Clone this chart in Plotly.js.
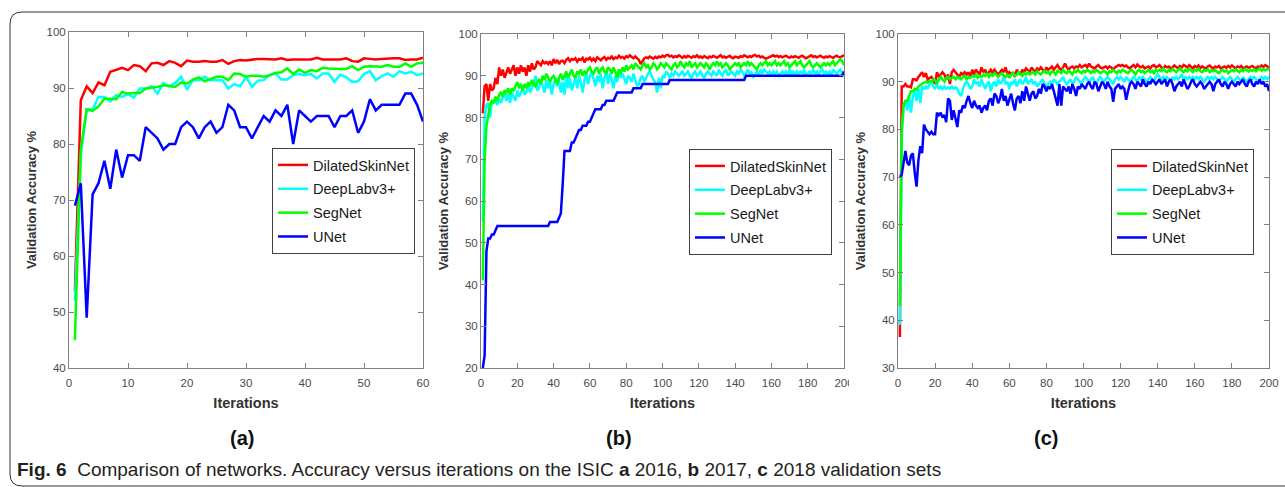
<!DOCTYPE html>
<html>
<head>
<meta charset="utf-8">
<script src="https://cdn.plot.ly/plotly-3.0.1.min.js"></script>
<style>html,body{margin:0;padding:0;background:#fff;}#chart{width:1285px;height:487px;}</style>
</head>
<body>
<div id="chart"></div>
<script>
// ---------------- DATA ----------------
const seriesNames = ['DilatedSkinNet', 'DeepLabv3+', 'SegNet', 'UNet'];
const panelLabels = ['(a)', '(b)', '(c)'];
const xTitle = 'Iterations';
const yTitle = 'Validation Accuracy %';

// (a) ISIC 2016, iterations 1..60
const aDilated = [53.7,87.8,90.3,89.1,91.0,90.5,92.9,93.3,93.6,93.2,
  94.1,93.9,93.0,94.4,94.5,94.1,94.8,94.5,93.9,94.9,
  94.7,94.7,94.8,94.7,94.7,95.0,94.3,94.8,95.0,94.9,
  95.1,95.2,95.2,95.1,95.1,95.3,95.0,95.1,95.1,95.1,
  95.1,95.4,95.1,95.1,95.1,95.1,95.3,94.8,94.7,95.3,
  95.2,95.1,95.2,95.3,95.3,95.3,95.0,95.1,95.1,95.4];
const aDeepLab = [52,78,86.2,86.2,88.4,88.4,87.6,88.7,88.4,88.9,
  88.3,89.9,89.9,90.3,89.0,90.9,90.3,90.9,92.0,89.7,
  91.4,91.4,92.0,91.4,91.4,91.4,89.9,90.7,90.3,92.0,
  90.2,91.3,91.4,92.3,92.6,91.5,91.5,92.3,92.5,92.3,
  92.5,91.7,92.6,92.6,91.1,92.4,91.9,91.1,91.2,92.5,
  93.0,91.4,92.1,92.6,92.0,93.0,92.6,92.9,92.3,92.6];
const aSegNet = [45,79,86.2,85.9,86.7,88.1,88.1,88.0,89.3,89.0,
  89.1,89.1,89.9,90.0,90.2,90.5,90.4,90.2,91.0,90.8,
  91.5,91.9,91.2,91.6,92.0,92.0,91.4,92.6,92.5,92.0,
  92.2,92.2,92.0,92.3,92.7,92.8,93.5,92.5,93.3,92.7,
  93.2,93.0,93.6,93.5,93.4,93.4,93.4,93.9,93.2,93.8,
  93.9,93.9,93.8,94.1,93.8,93.8,94.4,93.8,94.4,94.5];
const aUNet = [69,73,49,71,73,77,72,79,74,78,
  78,77,83,82,81,79,80,80,83,84,
  83,81,83,84,82,83,87,86,83,83,
  81,83,85,84,86,85,87,80,86,85,
  84,85,85,85,83,85,85,86,82,84,
  88,86,87,87,87,87,89,89,87,84];

// (b) ISIC 2017, iterations 1..200
const bDilated = [81,87.5,88,84,88,86.5,87,89.5,88,92,
  90,91.5,89.5,91,92,90.5,91.5,92.5,90,92,
  90.5,92.5,91,92,90,92.5,91,93,91.5,92,
  93.5,93,92.5,93.5,93,93.3,92.8,93.5,92.5,94,
  93,93.8,92.8,93.5,93.6,93,93.8,94.2,93.5,94,
  93.8,94.2,93.4,94,93.8,94.3,93.2,94.1,93.9,94.3,
  93.6,94.1,93.5,94.4,94,93.7,94.2,94.5,93.8,94.3,
  94.1,94.6,94,94.4,94.2,94.8,94.3,94.5,94.1,94.7,
  94.4,94.9,94.5,94.2,94.6,94.3,93.8,92.8,93.6,94.2,
  94.4,94.2,94.6,94.3,94.1,94.5,94.2,94.6,94.4,94.8,
  94.5,94.9,95,94.6,94.8,94.4,94.7,94.5,94.9,94.6,
  94.3,94.7,94.4,94.8,94.5,94.3,94.7,94.5,94.9,94.4,
  94.6,94.3,94.7,94.4,94.2,94.6,94.4,94.8,94.5,94.3,
  94.6,94.9,94.4,94.6,94.3,94.5,94.8,94.4,94.2,94.6,
  94.5,94.3,94.7,94.5,94.9,94.6,94.4,94.7,94.5,94.8,
  95,94.6,94.8,94.4,94.6,94.3,94.1,94.3,94.5,94.7,
  94.9,94.6,94.8,94.5,94.7,94.4,94.6,94.8,94.5,94.3,
  94.6,94.4,94.7,94.5,94.3,94.6,94.8,94.5,94.2,94.4,
  94.6,94.9,94.5,94.7,94.4,94.6,94.8,94.5,94.3,94.6,
  94.4,94.7,94.5,94.3,94.6,94.8,94.5,94.4,94.7,94.9];
const bDeepLab = [55,80,83,83.5,80,84,83.5,84,83,84.5,
  83.5,85,86,84,85.5,83.5,86,85,84,86.5,
  85,86,87,85.5,86,87.5,86,87,88,90,
  86.5,87,89,87.5,86,89,87,88.5,85.5,88,
  89.5,87.5,89,86,88.5,85.5,90,87,89.5,86.5,
  88,89.5,87,90,88.5,86,89,90.5,88,90,
  91,89,87.5,90,88.5,90.5,87,89.5,91,88,
  90.5,89,87,90,88.5,91,89.5,90.5,89,88,
  90,89.5,88.5,90.5,89,87.5,88,89.5,90,88.5,
  89.5,90.5,91,90,89,88.5,86,89.5,87,90,
  89.5,91,90.5,89.5,90.5,90,91,90.5,90,90.5,
  91,90,90.5,91,90,89.5,90.5,91,90,90.5,
  91,90,89.5,90.5,91,90.5,90,91,90.5,90,
  91.5,90.5,90,91,91.5,90,90.5,91,90.5,90,
  91,90.5,91.5,91,90,90.5,91.5,90.5,91,89.5,
  90.5,91,90,91.5,90.5,91.5,91,90.5,91,90,
  91,90.5,91,90,90.5,91,90.5,91,90,91.5,
  90.5,91,90,91,90.5,91,90.5,91.5,90,90.5,
  91,90.5,91.5,90.5,91,90,91,91.5,90.5,91,
  90.5,91,90,91.5,91,90.5,91,91.5,90.5,91];
const bSegNet = [41,70,78,80.5,83,84,83.5,85,84,85.5,
  86,85,86.5,86,87,85.5,87,86.5,87.5,88.5,
  87,88,86.5,88,87,88.5,87.5,89,88,87.5,
  88.5,89,88,90,89,90.5,89.5,88.5,89.5,90,
  89,88,89.5,90.5,89,90,91,89.5,90.5,91.5,
  90,89.5,91,90.5,91.5,90,91,90.5,91.5,92,
  91,90.5,91.5,92,90.5,91.5,92,91,90.5,92,
  91.5,90.5,92,91,89.5,91.5,90.5,92,91,92.5,
  91.5,92,92.5,91.5,93,92.5,92,91.5,92.5,93,
  92,92.5,91.5,92,93,92.5,91.5,92,93,92.5,
  92,93,92.5,92,91.5,92.5,93,92,92.5,93.5,
  92.5,92,93,92.5,93.5,92,92.5,93,92,92.5,
  93,92.5,92,93,92.5,91.5,92.5,93,92.5,93.5,
  92.5,93,92,92.5,93,92.5,91.5,92,92.5,93,
  92.5,93,92,92.5,93,92.5,93.5,92.5,93,92.5,
  92,91.5,92.5,93,92.5,93,93.5,92.5,93,92.5,
  93,93.5,92.5,93,92.5,93,93.5,92.5,93,92,
  92.5,93,93.5,92.5,93,93.5,92.5,92,92.5,93,
  93.5,92.5,92,92.5,93,92.5,92,92.5,93,92.5,
  93,92.5,93,93.5,92.5,93,93.5,94,93.5,92.5];
const bUNet = [20,23,48,51,51,52,52,53,54,54,
  54,54,54,54,54,54,54,54,54,54,
  54,54,54,54,54,54,54,54,54,54,
  54,54,54,54,54,54,54,55,55,55,
  55,55,56,57,64,72,72,72,72,74,
  74,75,76,77,77,78,78,78,79,79,
  80,81,82,82,82,82,83,83,84,84,
  84,84,84,85,86,86,86,86,86,86,
  86,86,86,87,87,87,87,87,88,88,
  88,88,88,88,88,88,88,88,88,88,
  88,88,88,89,89,89,89,89,89,89,
  89,89,89,89,89,89,89,89,89,89,
  89,89,89,89,89,89,89,89,89,89,
  89,89,89,89,89,89,89,89,89,89,
  89,89,89,89,89,90,90,90,90,90,
  90,90,90,90,90,90,90,90,90,90,
  90,90,90,90,90,90,90,90,90,90,
  90,90,90,90,90,90,90,90,90,90,
  90,90,90,90,90,90,90,90,90,90,
  90,90,90,90,90,90,90,90,90,91];

// (c) ISIC 2018, iterations 1..200
const cDilated = [36.5,89,89,89.5,89,89,88.8,90.5,90.5,90.3,
  91,91.5,92,91,91.8,90.5,90.8,91,90.5,89.5,
  92,91,91.5,92,91.5,90.5,91.5,89.5,92,92.5,
  92,91.5,91,91.8,91.5,92,91.5,92,91,92.5,
  91.5,92.5,92,91.5,93,92,92.5,91.5,92,92.5,
  91.8,92.5,92,91.5,92,92.5,92,93,91.5,92,
  91.5,92,91,92.5,92,91.5,92.5,92,92.8,92.5,
  92,93,92.5,92,92.8,92.5,93,92.5,92,93,
  92.5,92.8,93.2,92.5,93,93.5,92.8,92.5,93,93.8,
  93,92.5,93,93.2,92.8,93.2,93,93.5,93,93.2,
  93.5,93,93.8,93.2,93,92.8,93.2,93.5,93,92.8,
  93,93.2,92.8,93.2,93,92.5,93,93.2,93.5,93.3,
  93.5,93.2,93.4,93,92.8,93.2,93.5,93,93.6,93.2,
  93,93.3,92.8,93,93.2,92.8,93.3,93.5,93,93.2,
  93.5,93,92.8,93.3,93,93.2,92.8,93,93.4,93.1,
  92.8,93.3,93,93.5,93.2,93,93.5,93.2,92.8,93.3,
  93,93.4,92.8,93.2,93,92.7,93.2,93.4,93,92.8,
  93.2,93,93.3,92.8,93,93.2,92.9,93.3,93,93.4,
  93.1,92.8,93.2,93,93.3,92.8,93,93.2,92.9,93.1,
  93.3,93,92.8,93.2,93,93.4,93.1,93.5,93.2,93];
const cDeepLab = [39,78,85,86,84,87,83.5,87,88,86,
  88.5,85.5,89,88.5,89,88.5,89.5,90,89,88.5,
  89.5,88.5,89,88.5,89,88.5,88.8,88.5,89,88.5,
  88.8,88.5,87.5,87,88.5,89.5,90,89.5,88.5,89,
  90.5,89.5,90,89,90.5,89.5,88.5,89.5,90,88,
  89.5,90,89,90.5,89.5,90,91,89.5,90,88.5,
  90,89.5,90.5,89,90,90.5,89.5,90,91,89.5,
  90,90.5,89.5,90,89,89.5,90,90.5,89.5,89,
  89.5,90,89.5,90.5,90,89.5,90,90.5,91,90,
  89.5,90,90.5,89.5,90,91,90.5,90,89.5,90.5,
  91,90.5,90,90.5,91,90,89.5,90.5,91,90.5,
  90,90.5,91,90.5,90,89.5,90.5,91,90.5,91,
  90.5,90,91,90.5,90,90.5,91,90.5,90,91,
  90.5,91,90.5,90,90.5,91,90.5,90,91,91.5,
  91,90.5,91,90.5,91,90.5,90,91,90.5,91,
  90.5,91,91.5,90.5,91,90.5,91,90.5,91,90.5,
  91,90.5,91,90.5,90,90.5,91,90.5,91,90.5,
  91,90.5,90,90.5,91,90.5,90,90.5,91,90.5,
  90,90.5,91,90.5,90,91,90.5,90,90.5,91,
  90.5,91,90.5,90,90.5,91,90.5,91,90.5,91];
const cSegNet = [43,80,85,86,86,87,88,88,88.5,88.3,
  89,89.3,89.5,89.8,90,89.8,90.2,90,90.5,90.3,
  89.5,90.5,91,90.5,90,90.8,91,90.5,90.8,91,
  90.5,91,90.8,90.5,91,91.2,90.5,91,90.8,91.2,
  91,91.5,90.8,91.2,91,91.5,91.2,91.8,91,91.5,
  91.2,91.8,91.5,91,91.5,91.8,91.3,91,91.5,90.8,
  91.5,91.8,91.2,91.5,92,91.5,91.2,91.8,91.5,92,
  91.5,91.8,92,91.5,92.2,91.8,91.5,92,92.3,91.8,
  92,91.5,92.2,92,91.5,92.3,92,91.8,92.5,92,
  91.8,92.3,92,91.5,92.2,92,92.5,92,91.8,92.3,
  92,92.5,92.2,91.8,92.3,92,92.5,92.2,91.8,92,
  92.3,92,91.5,92.2,92,92.5,92.2,91.8,92.3,92,
  92.5,92.2,92,91.8,92.3,92.5,92,91.5,92.2,92.5,
  92,92.3,91.8,92.2,92.5,92,92.3,91.8,92.5,92.2,
  92.5,92.2,92.8,92.3,92,92.5,92.2,92.7,92.3,92,
  92.5,92.8,92.3,92,92.5,92.2,92.7,92.3,92,92.5,
  92.3,92.7,92.2,92,92.5,92.3,92.6,92,92.4,92.2,
  92.5,92,91.8,92.3,92.5,92.1,92.4,91.8,92.2,92.5,
  92.2,92.6,92.3,92,92.5,92.2,92.7,92.3,92.1,92.5,
  92.3,92.6,92.2,92.5,92.8,92.3,92.6,92.4,92.7,92.5];
const cUNet = [70,70.5,73,75.5,73,72.5,74.5,75,71,68,
  73.5,76.5,75,81,80,79.5,79,79.5,79,79,
  83.5,83,83.5,82.5,83,81.5,86.5,86,82,84,
  82,80.5,84,83.5,85,84.5,86,87,85.5,84.5,
  86,85,84.5,85,83.5,84.5,85,84,86,86.5,
  85,87.5,87,85.5,86.5,88.5,86,87,85,86.5,
  87.5,85.5,84,86.5,87,85.5,88,86,89,87.5,
  86,87.5,88,86.5,87,88.5,87.5,89.5,89,88,
  89,88.5,89.5,88,86.5,85,89.5,85,89,88.5,
  88,89,87.5,89.5,88.5,87,89,88.5,89.5,89,
  88.5,89.5,90,89,88.5,90,89.5,88,89,90,
  89.5,88.5,90,89,88.5,85.8,88.5,89,89.5,88.5,
  89,88.5,86.2,88,89.5,90,89.5,88.5,90,89.5,
  89,90.5,89.5,89,90,89.5,90.5,90,89.5,90,
  90.5,89.5,90,90.5,89,90,90.5,89.5,88,89,
  89.5,90,89,90.5,89.5,88.5,89,90,90.5,89.5,
  89,89.5,90,89.5,88.5,89,89.5,90,89.5,88,
  89.5,90,90.5,89.5,89,90,89.5,88.5,89.5,90,
  89.5,89,90,89.5,90,90.5,89.5,89,90,90.5,
  89.5,89,90,89.5,90.5,89.5,90,89,89.5,88];

const panels = [
  {series: [aDilated, aDeepLab, aSegNet, aUNet], xMax: 60, xDtick: 10, yMin: 40},
  {series: [bDilated, bDeepLab, bSegNet, bUNet], xMax: 200, xDtick: 20, yMin: 20},
  {series: [cDilated, cDeepLab, cSegNet, cUNet], xMax: 200, xDtick: 20, yMin: 30}
];

// ---------------- STYLE / LAYOUT ----------------
const W = 1285, H = 487;
const colors = ['#ff0000', '#00ffff', '#00ff00', '#0000ff'];
const fx = px => px / W;
const fy = py => 1 - py / H;
// plot boxes in pixels [left, right, top, bottom]
const boxes = [[69, 423, 32, 368], [481, 844, 34, 368], [898, 1269, 34, 368]];
const legendPos = [[272, 148], [689, 149], [1111, 149]];
const labelX = [242, 619, 1046];

const FONT = 'Liberation Sans, Arial, sans-serif';
const traces = [];
const layout = {
  width: W, height: H,
  margin: {l: 0, r: 0, t: 0, b: 0},
  paper_bgcolor: '#ffffff', plot_bgcolor: '#ffffff',
  hovermode: false,
  font: {family: FONT},
  annotations: [], shapes: []
};

panels.forEach((p, k) => {
  const sfx = k === 0 ? '' : String(k + 1);
  const legendId = 'legend' + sfx;
  p.series.forEach((vals, i) => {
    traces.push({
      type: 'scatter', mode: 'lines',
      x: vals.map((_, j) => j + 1), y: vals,
      name: seriesNames[i],
      line: {color: colors[i], width: 2.5},
      xaxis: 'x' + sfx, yaxis: 'y' + sfx,
      legend: legendId, legendgroup: 'g' + k + '_' + i
    });
  });
  const b = boxes[k];
  const axCommon = {
    showline: true, linecolor: '#808080', linewidth: 1, mirror: 'ticks',
    ticks: 'inside', ticklen: 5, tickcolor: '#808080', tickwidth: 1,
    showgrid: false, zeroline: false, fixedrange: true,
    tickfont: {family: FONT, size: 11.5, color: '#4a4a4a'}
  };
  layout['xaxis' + sfx] = Object.assign({}, axCommon, {
    domain: [fx(b[0]), fx(b[1])], anchor: 'y' + sfx,
    range: [0, p.xMax], dtick: p.xDtick, tick0: 0, ticklabelstandoff: 4,
    title: {text: xTitle, standoff: 10, font: {family: FONT, size: 14.5, weight: 'bold', color: '#333333'}}
  });
  layout['yaxis' + sfx] = Object.assign({}, axCommon, {
    domain: [fy(b[3]), fy(b[2])], anchor: 'x' + sfx,
    range: [p.yMin, 100], dtick: 10, tick0: 0, ticklabelstandoff: 0,
    title: {text: yTitle, standoff: 6, font: {family: FONT, size: 13, weight: 'bold', color: '#333333'}}
  });
  layout[legendId] = {
    x: fx(legendPos[k][0]), y: fy(legendPos[k][1]), xanchor: 'left', yanchor: 'top',
    bgcolor: '#ffffff', bordercolor: '#404040', borderwidth: 1,
    font: {family: FONT, size: 14.5, color: '#1a1a1a'},
    itemwidth: 30, tracegroupgap: 2, traceorder: 'grouped'
  };
  layout.annotations.push({
    text: '<b>' + panelLabels[k] + '</b>', xref: 'paper', yref: 'paper',
    x: fx(labelX[k]), y: fy(438), xanchor: 'center', yanchor: 'middle', showarrow: false,
    font: {family: FONT, size: 20, color: '#111111'}
  });
});

layout.annotations.push({
  text: '<b>Fig. 6</b>  Comparison of networks. Accuracy versus iterations on the ISIC <b>a</b> 2016, <b>b</b> 2017, <b>c</b> 2018 validation sets',
  xref: 'paper', yref: 'paper', x: fx(15), y: fy(469), xanchor: 'left', yanchor: 'middle',
  showarrow: false, font: {family: FONT, size: 19, color: '#231f20'}
});

// outer rounded frame
(function () {
  const L = 10, T = 12, R = 1300, B = 486, r = 12;
  const P = (x, y) => fx(x) + ',' + fy(y);
  layout.shapes.push({
    type: 'path', xref: 'paper', yref: 'paper', layer: 'below',
    path: 'M' + P(R, T) + ' L' + P(L + r, T) + ' Q' + P(L, T) + ' ' + P(L, T + r) +
          ' L' + P(L, B - r) + ' Q' + P(L, B) + ' ' + P(L + r, B) + ' L' + P(R, B),
    line: {color: '#333333', width: 1}
  });
  // panel (b) image is cropped on its right: the last tick label is cut off
  layout.shapes.push({
    type: 'rect', xref: 'paper', yref: 'paper', layer: 'above',
    x0: fx(849), x1: fx(880), y0: fy(372), y1: fy(392),
    fillcolor: '#ffffff', line: {width: 0}
  });
})();

Plotly.newPlot('chart', traces, layout, {staticPlot: true, displayModeBar: false});
</script>
</body>
</html>
